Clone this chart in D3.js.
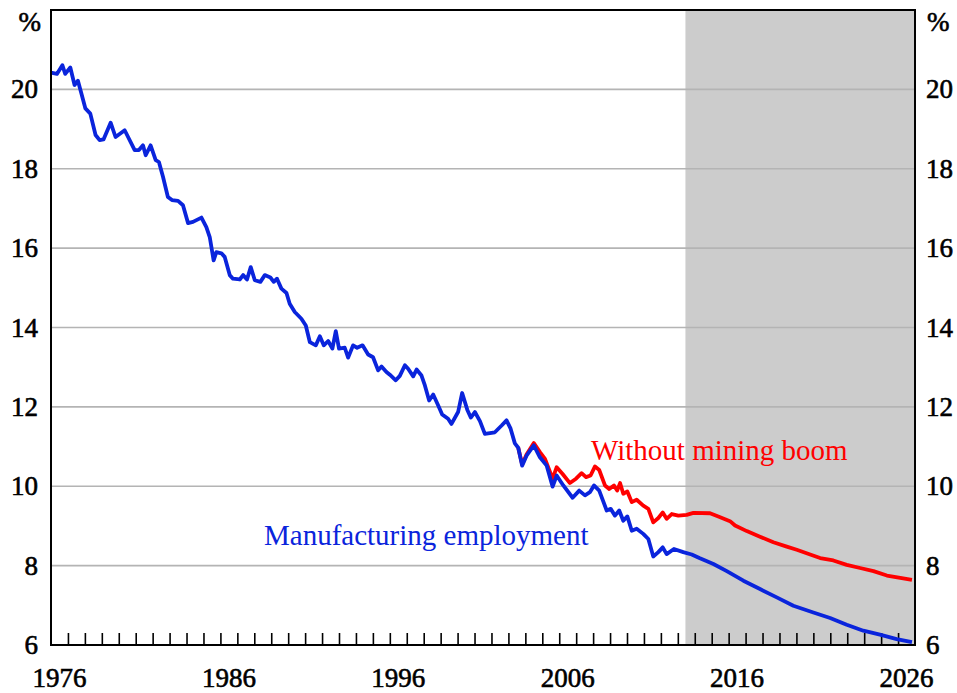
<!DOCTYPE html>
<html>
<head>
<meta charset="utf-8">
<script src="https://d3js.org/d3.v7.min.js"></script>
<style>
  body { margin: 0; background: #fff; }
  text { font-family: "Liberation Serif", "Times New Roman", serif; }
  .lbl { font-size: 27px; fill: #000; stroke: #000; stroke-width: 0.6px; }
</style>
</head>
<body>
<div id="chart"></div>
<script>
let w = 957;
let h = 693;

// manufacturing employment share of total employment (%)
let mfgYears = [1976.0, 1976.35, 1976.67, 1976.84, 1977.14, 1977.39, 1977.59, 1977.79, 1978.03, 1978.32,
  1978.63, 1978.87, 1979.1, 1979.52, 1979.81, 1980.35, 1980.94, 1981.19, 1981.43, 1981.59,
  1981.88, 1982.18, 1982.37, 1982.61, 1982.9, 1983.14, 1983.5, 1983.79, 1984.09, 1984.38,
  1984.88, 1985.17, 1985.37, 1985.6, 1985.76, 1986.06, 1986.25, 1986.55, 1986.74, 1987.14,
  1987.34, 1987.57, 1987.79, 1988.03, 1988.36, 1988.62, 1988.95, 1989.15, 1989.34, 1989.6,
  1989.9, 1990.09, 1990.39, 1990.78, 1991.04, 1991.28, 1991.63, 1991.87, 1992.1, 1992.36,
  1992.61, 1992.81, 1993.0, 1993.34, 1993.54, 1993.83, 1994.07, 1994.39, 1994.72, 1995.01,
  1995.31, 1995.51, 1995.8, 1996.0, 1996.35, 1996.59, 1996.89, 1997.08, 1997.38, 1997.58,
  1997.87, 1998.07, 1998.32, 1998.56, 1998.85, 1999.09, 1999.44, 1999.64, 2000.03, 2000.27,
  2000.57, 2000.78, 2001.02, 2001.32, 2001.61, 2001.91, 2002.2, 2002.6, 2002.89, 2003.13,
  2003.38, 2003.58, 2003.81, 2004.07, 2004.5, 2004.86, 2005.26, 2005.61, 2005.85, 2006.24,
  2006.79, 2007.18, 2007.52, 2007.81, 2008.05, 2008.36, 2008.8, 2009.04, 2009.29, 2009.54,
  2009.78, 2010.02, 2010.28, 2010.57, 2010.96, 2011.26, 2011.55, 2011.85, 2012.11, 2012.34,
  2012.77, 2013.32, 2013.82, 2014.27, 2015.1, 2015.89, 2016.87, 2017.85, 2018.84, 2019.82,
  2021.0, 2021.99, 2022.97, 2023.95, 2024.93, 2025.92, 2026.82];
let mfgValues = [20.42, 20.39, 20.61, 20.39, 20.55, 20.11, 20.22, 19.9, 19.52, 19.39,
  18.85, 18.72, 18.74, 19.16, 18.8, 18.97, 18.47, 18.47, 18.59, 18.34,
  18.59, 18.22, 18.17, 17.8, 17.29, 17.21, 17.19, 17.08, 16.63, 16.66,
  16.77, 16.53, 16.28, 15.69, 15.9, 15.87, 15.78, 15.32, 15.23, 15.21,
  15.32, 15.21, 15.52, 15.19, 15.15, 15.32, 15.26, 15.15, 15.23, 14.98,
  14.87, 14.6, 14.39, 14.22, 14.05, 13.63, 13.55, 13.78, 13.55, 13.66,
  13.47, 13.91, 13.47, 13.49, 13.24, 13.55, 13.49, 13.55, 13.32, 13.25,
  12.92, 13.02, 12.88, 12.81, 12.67, 12.78, 13.05, 12.96, 12.77, 12.94,
  12.79, 12.54, 12.16, 12.31, 12.04, 11.81, 11.7, 11.57, 11.87, 12.35,
  11.93, 11.73, 11.87, 11.64, 11.32, 11.34, 11.36, 11.53, 11.66, 11.45,
  11.08, 10.97, 10.52, 10.77, 11.03, 10.73, 10.52, 9.99, 10.27, 10.02,
  9.71, 9.89, 9.77, 9.85, 10.02, 9.89, 9.39, 9.43, 9.26, 9.39,
  9.13, 9.24, 8.88, 8.93, 8.8, 8.67, 8.23, 8.34, 8.46, 8.29,
  8.42, 8.34, 8.28, 8.19, 8.04, 7.86, 7.62, 7.41, 7.2, 6.99,
  6.82, 6.68, 6.51, 6.36, 6.26, 6.15, 6.07];

// counterfactual without the mining boom
let boomYears = [2003.58, 2003.81, 2004.07, 2004.5, 2004.86, 2005.16, 2005.61, 2005.85, 2006.2, 2006.63,
  2006.99, 2007.32, 2007.58, 2007.85, 2008.11, 2008.36, 2008.7, 2008.95, 2009.23, 2009.42,
  2009.59, 2009.78, 2010.02, 2010.28, 2010.57, 2010.96, 2011.26, 2011.55, 2011.85, 2012.11,
  2012.34, 2012.64, 2013.03, 2013.52, 2013.92, 2014.9, 2015.39, 2016.08, 2016.38, 2017.07,
  2017.85, 2018.64, 2019.43, 2020.02, 2020.81, 2021.4, 2022.18, 2022.97, 2023.76, 2024.55,
  2025.34, 2026.13, 2026.82];
let boomValues = [10.97, 10.55, 10.8, 11.09, 10.86, 10.69, 10.19, 10.48, 10.31, 10.08,
  10.19, 10.33, 10.23, 10.27, 10.5, 10.41, 10.02, 9.93, 10.02, 9.89,
  10.08, 9.81, 9.87, 9.6, 9.66, 9.51, 9.43, 9.09, 9.2, 9.34,
  9.18, 9.3, 9.26, 9.28, 9.33, 9.32, 9.24, 9.12, 9.01, 8.87,
  8.73, 8.59, 8.48, 8.4, 8.28, 8.19, 8.13, 8.02, 7.94, 7.86,
  7.75, 7.69, 7.64];

let yTicks = [6, 8, 10, 12, 14, 16, 18, 20];
let xLabels = [1976, 1986, 1996, 2006, 2016, 2026];
let forecastStart = 2013.45;

let margin = {left: 51, right: 42, top: 10, bottom: 48};

let xScale = d3.scaleLinear()
  .domain([1976, 2027])
  .range([margin.left, w - margin.right]);

let yScale = d3.scaleLinear()
  .domain([6, 22])
  .range([h - margin.bottom, margin.top]);

let svg = d3.select("#chart")
  .append("svg")
  .attr("width", w)
  .attr("height", h);

// forecast shading
svg.append("rect")
  .attr("x", xScale(forecastStart))
  .attr("y", yScale(22))
  .attr("width", xScale(2027) - xScale(forecastStart))
  .attr("height", yScale(6) - yScale(22))
  .attr("fill", "#cccccc");

// gridlines
svg.append("g")
  .selectAll("line")
  .data(yTicks.filter(d => d > 6))
  .enter()
  .append("line")
  .attr("x1", xScale(1976))
  .attr("x2", xScale(2027))
  .attr("y1", d => yScale(d))
  .attr("y2", d => yScale(d))
  .style("stroke", "#b4b4b4")
  .style("stroke-width", 1.6);

// year ticks, pointing up from the bottom axis
let xAxis = d3.axisTop(xScale)
  .tickValues(d3.range(1977, 2027))
  .tickSize(12)
  .tickFormat("");

svg.append("g")
  .attr("class", "x axis")
  .attr("transform", "translate(0," + yScale(6) + ")")
  .call(xAxis)
  .call(g => g.select(".domain").remove())
  .call(g => g.selectAll("line").style("stroke", "#000").style("stroke-width", 1.6));

let line = d3.line()
  .x(d => xScale(d[0]))
  .y(d => yScale(d[1]));

let boomData = boomYears.map((y, i) => [y, boomValues[i]]);
let mfgData = mfgYears.map((y, i) => [y, mfgValues[i]]);

svg.append("path")
  .datum(boomData)
  .attr("d", line)
  .attr("fill", "none")
  .style("stroke", "#ff0000")
  .style("stroke-width", 3.8)
  .style("stroke-linejoin", "round");

svg.append("path")
  .datum(mfgData)
  .attr("d", line)
  .attr("fill", "none")
  .style("stroke", "#0a24dc")
  .style("stroke-width", 3.8)
  .style("stroke-linejoin", "round");

// frame
svg.append("rect")
  .attr("x", xScale(1976))
  .attr("y", yScale(22))
  .attr("width", xScale(2027) - xScale(1976))
  .attr("height", yScale(6) - yScale(22))
  .attr("fill", "none")
  .style("stroke", "#000")
  .style("stroke-width", 2);

// y labels, both sides
svg.append("g")
  .selectAll("text")
  .data(yTicks)
  .enter()
  .append("text")
  .attr("class", "lbl")
  .attr("x", 38)
  .attr("y", d => yScale(d) + 9)
  .attr("text-anchor", "end")
  .text(d => d);

svg.append("g")
  .selectAll("text")
  .data(yTicks)
  .enter()
  .append("text")
  .attr("class", "lbl")
  .attr("x", 926)
  .attr("y", d => yScale(d) + 9)
  .attr("text-anchor", "start")
  .text(d => d);

svg.append("text")
  .attr("class", "lbl")
  .attr("x", 41)
  .attr("y", 31)
  .attr("text-anchor", "end")
  .text("%");

svg.append("text")
  .attr("class", "lbl")
  .attr("x", 927)
  .attr("y", 31)
  .text("%");

// x labels sit in the middle of each year
svg.append("g")
  .selectAll("text")
  .data(xLabels)
  .enter()
  .append("text")
  .attr("class", "lbl")
  .attr("x", d => xScale(d + 0.5))
  .attr("y", 687)
  .attr("text-anchor", "middle")
  .text(d => d);

// annotations
svg.append("text")
  .attr("x", 591)
  .attr("y", 460)
  .style("font-size", "29px")
  .style("fill", "#ff0000")
  .text("Without mining boom");

svg.append("text")
  .attr("x", 264)
  .attr("y", 545)
  .style("font-size", "29px")
  .style("fill", "#0a24dc")
  .text("Manufacturing employment");
</script>
</body>
</html>
